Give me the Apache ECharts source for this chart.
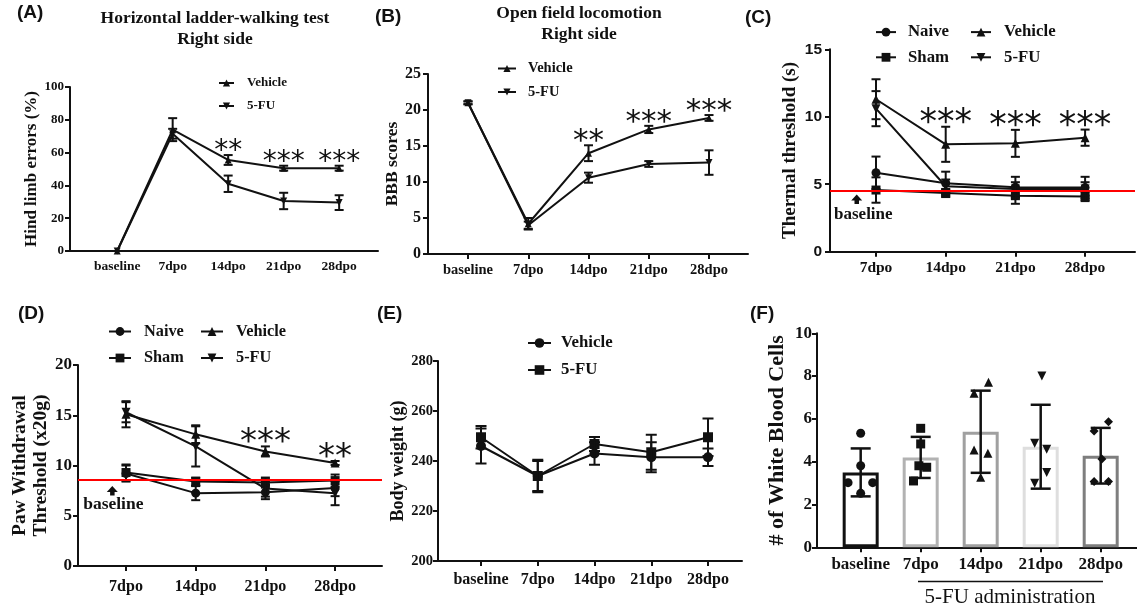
<!DOCTYPE html>
<html>
<head>
<meta charset="utf-8">
<script src="https://cdn.jsdelivr.net/npm/echarts@6/dist/echarts.min.js"></script>
<style>
  html, body { margin: 0; padding: 0; background: #fff; }
  #chart { width: 1137px; height: 610px; }
</style>
</head>
<body>
<div id="chart"></div>
<script>
// categories
const timepoints = ['baseline', '7dpo', '14dpo', '21dpo', '28dpo'];
const dpoTimepoints = ['7dpo', '14dpo', '21dpo', '28dpo'];

// (A) horizontal ladder walking, hind limb errors (%)
const ladderVehicle = [0, 74, 55.5, 50.5, 50.5];
const ladderVehicleSem = [0, 7, 3, 1.5, 1.5];
const ladderFU = [0, 71.5, 41, 30.5, 29.5];
const ladderFUSem = [0, 3, 5, 5, 4.5];
const ladderStars = ['', '', '**', '***', '***'];

// (B) open field, BBB scores
const bbbVehicle = [21, 4.2, 14, 17.3, 18.9];
const bbbVehicleSem = [0.2, 0.8, 1.1, 0.5, 0.4];
const bbbFU = [21, 4.0, 10.6, 12.5, 12.7];
const bbbFUSem = [0.2, 0.5, 0.7, 0.4, 1.7];
const bbbStars = ['', '', '**', '***', '***'];

// (C) thermal threshold (s)
const thermalNaive = [5.85, 5.07, 4.78, 4.75];
const thermalNaiveSem = [1.2, 0.86, 0.77, 0.8];
const thermalSham = [4.57, 4.35, 4.15, 4.1];
const thermalShamSem = [0.94, 0.3, 0.6, 0.35];
const thermalVehicle = [11.3, 7.96, 8.03, 8.45];
const thermalVehicleSem = [1.48, 1.3, 1.0, 0.6];
const thermalFU = [10.6, 4.85, 4.65, 4.65];
const thermalFUSem = [1.3, 0.5, 0.5, 0.5];
const thermalStars = ['', '***', '***', '***'];
const thermalBaseline = 4.5;

// (D) paw withdrawal threshold (x20g)
const pawNaive = [9.2, 7.25, 7.35, 7.75];
const pawNaiveSem = [0.8, 0.7, 0.7, 0.8];
const pawSham = [9.3, 8.4, 8.3, 8.5];
const pawShamSem = [0.8, 0.4, 0.5, 0.6];
const pawVehicle = [15.1, 13.1, 11.4, 10.25];
const pawVehicleSem = [1.3, 0.9, 0.5, 0.2];
const pawFU = [15.3, 11.9, 7.7, 7.25];
const pawFUSem = [1.0, 2.0, 0.8, 1.2];
const pawStars = ['', '', '***', '**'];
const pawBaseline = 8.6;

// (E) body weight (g)
const weightVehicle = [246, 234, 243, 241.5, 241.5];
const weightVehicleSem = [7, 6, 4.5, 6, 3.5];
const weightFU = [249.5, 234, 246.8, 243.5, 249.5];
const weightFUSem = [4.5, 6.5, 2.8, 7, 7.5];

// (F) white blood cells, mean +- SD and single animals
const wbcMean = [3.5, 4.2, 5.4, 4.7, 4.28];
const wbcSd = [1.12, 0.96, 1.92, 1.96, 1.3];
const wbcPoints = [
  [5.33, 3.81, 3.02, 3.02, 2.52],
  [5.56, 4.83, 3.81, 3.74, 3.10],
  [7.71, 7.2, 4.55, 4.39, 3.27],
  [8.0, 4.86, 4.58, 3.49, 2.99],
  [5.87, 5.43, 4.13, 3.07, 3.07]
];
const wbcJitter = [
  [0, 0, -0.21, 0.2, 0],
  [0, 0, -0.03, 0.1, -0.12],
  [0.13, -0.11, -0.11, 0.12, 0],
  [0.02, -0.1, 0.1, 0.1, -0.1],
  [0.13, -0.11, 0.02, -0.11, 0.13]
];

const SERIF = '"Liberation Serif", "Times New Roman", serif';
const SANS = '"Liberation Sans", Arial, sans-serif';
const INK = '#111';
const INV_TRIANGLE = 'path://M0,0L10,0L5,9Z';
const wbcBorders = ['#111', '#b2b2b2', '#a0a0a0', '#dedede', '#7e7e7e'];
const wbcSymbols = ['circle', 'rect', 'triangle', INV_TRIANGLE, 'diamond'];

const indexed = arr => arr.map((v, i) => [i, v]);

function lineSeries(gi, panel, name, values, symbol, size, extra) {
  return Object.assign({
    type: 'line', name: panel + '|' + name,
    xAxisIndex: gi, yAxisIndex: gi,
    data: indexed(values),
    symbol: symbol, symbolSize: size, showSymbol: true,
    lineStyle: { color: INK, width: 2 },
    itemStyle: { color: INK },
    z: 3
  }, extra || {});
}

function errorBars(gi, values, errs, cap, width) {
  return {
    type: 'custom', xAxisIndex: gi, yAxisIndex: gi, silent: true, z: 4,
    data: values.map((v, i) => [i, v, errs[i]]),
    renderItem: function (params, api) {
      const x = api.value(0), y = api.value(1), e = api.value(2);
      const hi = api.coord([x, y + e]);
      const lo = api.coord([x, y - e]);
      const st = { stroke: INK, lineWidth: width || 2 };
      return { type: 'group', children: [
        { type: 'line', shape: { x1: hi[0], y1: hi[1], x2: lo[0], y2: lo[1] }, style: st },
        { type: 'line', shape: { x1: hi[0] - cap / 2, y1: hi[1], x2: hi[0] + cap / 2, y2: hi[1] }, style: st },
        { type: 'line', shape: { x1: lo[0] - cap / 2, y1: lo[1], x2: lo[0] + cap / 2, y2: lo[1] }, style: st }
      ] };
    }
  };
}

// asterisks sit just above the Vehicle error bar
function starSeries(gi, values, errs, stars, fontSize) {
  return {
    type: 'custom', xAxisIndex: gi, yAxisIndex: gi, silent: true, z: 5,
    data: values.map((v, i) => [i, v + errs[i]]),
    renderItem: function (params, api) {
      const p = api.coord([api.value(0), api.value(1)]);
      return { type: 'text', x: p[0], y: p[1] - 3, style: {
        text: stars[params.dataIndex], fontSize: fontSize, fontFamily: 'DejaVu Sans',
        fill: INK, align: 'center', verticalAlign: 'middle'
      } };
    }
  };
}

function xAxisFor(gi, labels, min, max, fontSize, margin, showTicks) {
  const vals = labels.map((_, i) => i);
  return {
    type: 'value', gridIndex: gi, min: min, max: max,
    splitLine: { show: false },
    axisLine: { show: true, onZero: false, lineStyle: { color: INK, width: 2 } },
    axisTick: { show: showTicks, customValues: vals, length: 5, lineStyle: { color: INK, width: 2 } },
    axisLabel: {
      customValues: vals, formatter: v => labels[Math.round(v)], margin: margin,
      color: INK, fontFamily: SERIF, fontWeight: 'bold', fontSize: fontSize
    }
  };
}

function yAxisFor(gi, min, max, interval, name, nameSize, nameGap, tickSize, tickFont, margin, lh) {
  return {
    type: 'value', gridIndex: gi, min: min, max: max, interval: interval,
    name: name, nameLocation: 'middle', nameGap: nameGap,
    nameTextStyle: { fontFamily: SERIF, fontWeight: 'bold', fontSize: nameSize, color: INK, lineHeight: lh },
    splitLine: { show: false },
    axisLine: { show: true, onZero: false, lineStyle: { color: INK, width: 2 } },
    axisTick: { show: true, length: 5, lineStyle: { color: INK, width: 2 } },
    axisLabel: { margin: margin, color: INK, fontFamily: tickFont, fontWeight: 'bold', fontSize: tickSize }
  };
}

function legendFor(names, left, top, fontSize, gap, iconW, iconH, pad) {
  return {
    orient: 'vertical', left: left, top: top, padding: 0,
    itemWidth: iconW, itemHeight: iconH, itemGap: gap,
    selectedMode: false, data: names,
    formatter: n => n.split('|')[1],
    textStyle: { fontFamily: SERIF, fontWeight: 'bold', fontSize: fontSize, color: INK, padding: [0, 0, 0, pad] }
  };
}

function panelLetter(text, left, top) {
  return { text: text, left: left, top: top, padding: 0,
    textStyle: { fontFamily: SANS, fontWeight: 'bold', fontSize: 19, color: INK } };
}

function panelTitle(text, left, top) {
  return { text: text, left: left, top: top, padding: 0, textAlign: 'center',
    textStyle: { fontFamily: SERIF, fontWeight: 'bold', fontSize: 17.5, lineHeight: 21, color: INK } };
}

const redLine = value => ({
  silent: true, symbol: 'none', animation: false,
  label: { show: false },
  lineStyle: { color: '#ff0000', width: 2, type: 'solid' },
  data: [{ yAxis: value }]
});

const series = [
  // A
  lineSeries(0, 'A', 'Vehicle', ladderVehicle, 'triangle', 7),
  lineSeries(0, 'A', '5-FU', ladderFU, INV_TRIANGLE, 7),
  errorBars(0, ladderVehicle, ladderVehicleSem, 9),
  errorBars(0, ladderFU, ladderFUSem, 9),
  starSeries(0, ladderVehicle, ladderVehicleSem, ladderStars, 28),
  // B
  lineSeries(1, 'B', 'Vehicle', bbbVehicle, 'triangle', 7),
  lineSeries(1, 'B', '5-FU', bbbFU, INV_TRIANGLE, 7),
  errorBars(1, bbbVehicle, bbbVehicleSem, 9),
  errorBars(1, bbbFU, bbbFUSem, 9),
  starSeries(1, bbbVehicle, bbbVehicleSem, bbbStars, 31),
  // C
  lineSeries(2, 'C', 'Naive', thermalNaive, 'circle', 9),
  lineSeries(2, 'C', 'Sham', thermalSham, 'rect', 9),
  lineSeries(2, 'C', 'Vehicle', thermalVehicle, 'triangle', 9),
  lineSeries(2, 'C', '5-FU', thermalFU, INV_TRIANGLE, 9, { markLine: redLine(thermalBaseline) }),
  errorBars(2, thermalNaive, thermalNaiveSem, 9),
  errorBars(2, thermalSham, thermalShamSem, 9),
  errorBars(2, thermalVehicle, thermalVehicleSem, 9),
  errorBars(2, thermalFU, thermalFUSem, 9),
  starSeries(2, thermalVehicle, thermalVehicleSem, thermalStars, 35),
  // D
  lineSeries(3, 'D', 'Naive', pawNaive, 'circle', 9),
  lineSeries(3, 'D', 'Sham', pawSham, 'rect', 9),
  lineSeries(3, 'D', 'Vehicle', pawVehicle, 'triangle', 9),
  lineSeries(3, 'D', '5-FU', pawFU, INV_TRIANGLE, 9, { markLine: redLine(pawBaseline) }),
  errorBars(3, pawNaive, pawNaiveSem, 9),
  errorBars(3, pawSham, pawShamSem, 9),
  errorBars(3, pawVehicle, pawVehicleSem, 9),
  errorBars(3, pawFU, pawFUSem, 9),
  starSeries(3, pawVehicle, pawVehicleSem, pawStars, 34),
  // E
  lineSeries(4, 'E', 'Vehicle', weightVehicle, 'circle', 10),
  lineSeries(4, 'E', '5-FU', weightFU, 'rect', 10),
  errorBars(4, weightVehicle, weightVehicleSem, 11),
  errorBars(4, weightFU, weightFUSem, 11),
  // F
  {
    type: 'bar', xAxisIndex: 5, yAxisIndex: 5, barWidth: 36, z: 2,
    data: wbcMean.map((m, i) => ({ value: [i, m], itemStyle: { borderColor: wbcBorders[i] } })),
    itemStyle: { color: '#fff', borderWidth: 3 }
  },
  errorBars(5, wbcMean, wbcSd, 20, 2.5)
].concat(wbcPoints.map((pts, k) => ({
  type: 'scatter', xAxisIndex: 5, yAxisIndex: 5, z: 6,
  symbol: wbcSymbols[k], symbolSize: 9,
  itemStyle: { color: INK, opacity: 1 },
  data: pts.map((v, j) => [k + wbcJitter[k][j], v])
})));

const option = {
  animation: false,
  backgroundColor: '#fff',
  title: [
    panelLetter('(A)', 17, 3),
    panelLetter('(B)', 375, 7),
    panelLetter('(C)', 745, 8),
    panelLetter('(D)', 18, 304),
    panelLetter('(E)', 377, 304),
    panelLetter('(F)', 750, 304),
    panelTitle('Horizontal ladder-walking test\nRight side', 215, 7.5),
    panelTitle('Open field locomotion\nRight side', 579, 3)
  ],
  legend: [
    legendFor(['A|Vehicle', 'A|5-FU'], 218, 76.5, 13, 10, 15, 9, 8),
    legendFor(['B|Vehicle', 'B|5-FU'], 497, 61, 14.5, 8.5, 18, 9, 7),
    legendFor(['C|Naive', 'C|Sham'], 875, 23.6, 16.8, 8.2, 20, 11, 7),
    legendFor(['C|Vehicle', 'C|5-FU'], 970, 23.6, 16.8, 8.2, 20, 11, 8),
    legendFor(['D|Naive', 'D|Sham'], 108, 323.5, 16.3, 10.5, 22, 11, 8),
    legendFor(['D|Vehicle', 'D|5-FU'], 200, 323.5, 16.3, 10.5, 22, 11, 8),
    legendFor(['E|Vehicle', 'E|5-FU'], 527, 334.5, 16.8, 10, 23, 12, 5)
  ],
  grid: [
    { left: 70, top: 87, width: 308, height: 164, outerBoundsMode: 'none' },
    { left: 428, top: 74, width: 320, height: 180, outerBoundsMode: 'none' },
    { left: 830, top: 49.3, width: 305, height: 202.4, outerBoundsMode: 'none' },
    { left: 78, top: 365, width: 304, height: 201, outerBoundsMode: 'none' },
    { left: 438, top: 361, width: 304, height: 200, outerBoundsMode: 'none' },
    { left: 817, top: 333.3, width: 320, height: 214, outerBoundsMode: 'none' }
  ],
  xAxis: [
    xAxisFor(0, timepoints, -0.85, 4.7, 13.5, 9, false),
    xAxisFor(1, timepoints, -0.664, 4.647, 14.5, 9, true),
    xAxisFor(2, dpoTimepoints, -0.66, 3.716, 15.5, 8.5, true),
    xAxisFor(3, dpoTimepoints, -0.689, 3.673, 16, 13, true),
    xAxisFor(4, timepoints, -0.758, 4.599, 16, 11, true),
    xAxisFor(5, timepoints, -0.728, 4.605, 17, 9, true)
  ],
  yAxis: [
    yAxisFor(0, 0, 100, 20, 'Hind limb errors (%)', 17, 28.5, 13, SERIF, 6),
    yAxisFor(1, 0, 25, 5, 'BBB scores', 17.5, 22, 16, SERIF, 7),
    yAxisFor(2, 0, 15, 5, 'Thermal threshold (s)', 19, 30.5, 15.5, SANS, 8),
    yAxisFor(3, 0, 20, 5, 'Paw Withdrawal\nThreshold (x20g)', 19.5, 25, 17, SERIF, 6, 21),
    yAxisFor(4, 200, 280, 20, 'Body weight (g)', 18, 31, 14.5, SERIF, 5),
    yAxisFor(5, 0, 10, 2, '# of White Blood Cells', 22, 29, 17, SERIF, 5)
  ],
  graphic: [
    // baseline marker, panel C
    { type: 'polygon', shape: { points: [[851.2, 200.5], [856.7, 194.5], [862.2, 200.5]] }, style: { fill: INK } },
    { type: 'rect', shape: { x: 854.5, y: 200, width: 4.5, height: 4 }, style: { fill: INK } },
    { type: 'text', x: 863.3, y: 214.3, style: { text: 'baseline', fontFamily: SERIF, fontWeight: 'bold', fontSize: 17, fill: INK, align: 'center', verticalAlign: 'middle' } },
    // baseline marker, panel D
    { type: 'polygon', shape: { points: [[106.8, 492], [112.3, 486], [117.8, 492]] }, style: { fill: INK } },
    { type: 'rect', shape: { x: 110.1, y: 491.5, width: 4.5, height: 4 }, style: { fill: INK } },
    { type: 'text', x: 113.3, y: 504, style: { text: 'baseline', fontFamily: SERIF, fontWeight: 'bold', fontSize: 17.5, fill: INK, align: 'center', verticalAlign: 'middle' } },
    // 5-FU administration bracket, panel F
    { type: 'line', shape: { x1: 918, y1: 581.5, x2: 1103, y2: 581.5 }, style: { stroke: INK, lineWidth: 1.5 } },
    { type: 'text', x: 1010, y: 597, style: { text: '5-FU administration', fontFamily: SERIF, fontSize: 21, fill: INK, align: 'center', verticalAlign: 'middle' } }
  ],
  series: series
};

const chart = echarts.init(document.getElementById('chart'));
chart.setOption(option);
</script>
</body>
</html>
